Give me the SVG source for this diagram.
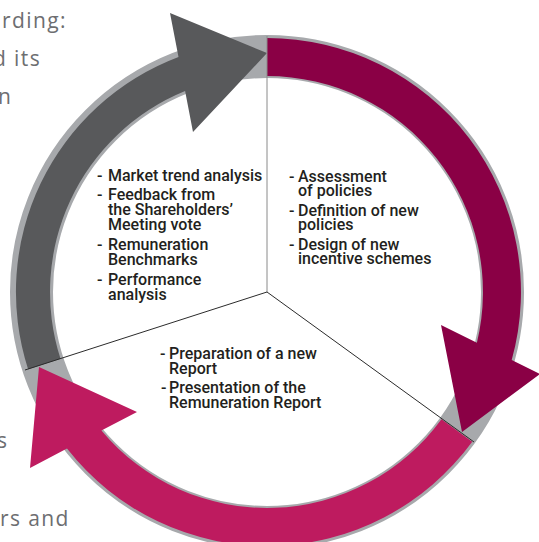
<svg xmlns="http://www.w3.org/2000/svg" width="539" height="542" viewBox="0 0 539 542">
  <style>
    .bg { font-family: "Open Sans", "Liberation Sans", sans-serif; font-size: 21px; fill: #6d6e71; font-weight: 400; letter-spacing: 1.4px; }
    .lbl { font-family: Roboto, "Liberation Sans", sans-serif; font-size: 16px; font-weight: 500; fill: #231f20; }
    .ring { fill: none; stroke: #a7a9ac; stroke-width: 43; }
    .div { stroke: #2b2b2b; stroke-width: 1; fill: none; }
  </style>
  <rect width="539" height="542" fill="#ffffff"/>

  <g id="page-text">
    <text class="bg" x="2" y="28">rding:</text>
    <text class="bg" x="-7" y="66">d its</text>
    <text class="bg" x="-2" y="104">n</text>
    <text class="bg" x="-3" y="448">s</text>
    <text class="bg" x="0" y="526">rs and</text>
  </g>

  <circle class="ring" cx="267" cy="292" r="235.5"/>

  <g id="arrow-define">
    <path fill="#8a0045" d="M267,38 A254,254 0 0 1 511.7,360 L540,374 L462,432 L441,325 L476.9,342.8 A216,216 0 0 0 267,76 Z"/>
  </g>
  <g id="arrow-approve">
    <path fill="#be1b5f" d="M472.2,441.7 A254,254 0 0 1 67,448.6 L30,468 L39,367 L137,412 L101.4,430.6 A216,216 0 0 0 441.5,419.3 Z"/>
  </g>
  <g id="arrow-review">
    <path fill="#58595b" d="M28.1,369.2 A251,251 0 0 1 178.5,57.1 L170,13 L267,53 L193,132 L185.1,91.1 A217,217 0 0 0 60.5,358.7 Z"/>
  </g>

  <g id="connectors">
    <line class="div" x1="267" y1="36" x2="267" y2="292" style="stroke:#8a8a8a"/>
    <line class="div" x1="267" y1="292" x2="25" y2="370"/>
    <line class="div" x1="267" y1="292" x2="474" y2="442"/>
  </g>

  <g id="node-review">
    <text class="lbl" x="97" y="181">-</text><text class="lbl" x="108" y="181">Market trend analysis</text>
    <text class="lbl" x="97" y="200">-</text><text class="lbl" x="108" y="200">Feedback from</text>
    <text class="lbl" x="108" y="215">the Shareholders’</text>
    <text class="lbl" x="108" y="230">Meeting vote</text>
    <text class="lbl" x="97" y="250">-</text><text class="lbl" x="108" y="250">Remuneration</text>
    <text class="lbl" x="108" y="265">Benchmarks</text>
    <text class="lbl" x="97" y="285">-</text><text class="lbl" x="108" y="285">Performance</text>
    <text class="lbl" x="108" y="300">analysis</text>
  </g>

  <g id="node-define">
    <text class="lbl" x="289" y="182">-</text><text class="lbl" x="298" y="182">Assessment</text>
    <text class="lbl" x="298" y="196">of policies</text>
    <text class="lbl" x="289" y="216">-</text><text class="lbl" x="298" y="216">Definition of new</text>
    <text class="lbl" x="298" y="230">policies</text>
    <text class="lbl" x="289" y="250">-</text><text class="lbl" x="298" y="250">Design of new</text>
    <text class="lbl" x="298" y="264">incentive schemes</text>
  </g>

  <g id="node-approve">
    <text class="lbl" x="160" y="359">-</text><text class="lbl" x="169" y="359">Preparation of a new</text>
    <text class="lbl" x="169" y="374">Report</text>
    <text class="lbl" x="161" y="393">-</text><text class="lbl" x="169" y="393">Presentation of the</text>
    <text class="lbl" x="169" y="408">Remuneration Report</text>
  </g>
</svg>
